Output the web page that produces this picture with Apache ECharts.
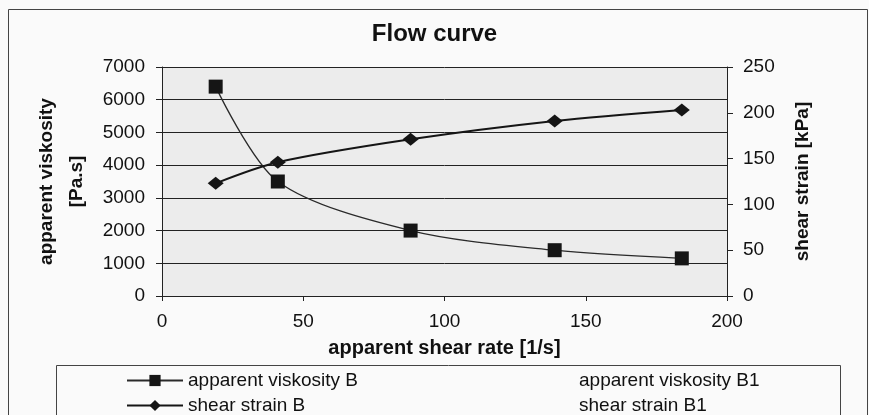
<!DOCTYPE html>
<html>
<head>
<meta charset="utf-8">
<script src="https://cdn.jsdelivr.net/npm/echarts@6/dist/echarts.min.js"></script>
<style>
  html, body { margin: 0; padding: 0; background: #fafafa; }
  #chart { width: 869px; height: 415px; }
</style>
</head>
<body>
<div id="chart"></div>
<script>
// values
const shearRate = [19, 41, 88, 139, 184];
const viskosityB = [6400, 3500, 2000, 1400, 1150];
const shearRateStrain = [19, 41, 88, 139, 184];
const shearStrainB = [123, 146, 171, 191, 203];
// B1 series appear only in the legend
const viskosityB1 = [];
const shearStrainB1 = [];

const font = 'Liberation Sans, Arial, sans-serif';

const pairs = (xs, ys) => ys.map((y, i) => [xs[i], y]);

const legendBase = {
    orient: 'horizontal',
    padding: 0,
    itemWidth: 56,
    itemHeight: 14,
    itemGap: 0,
    selectedMode: false,
    textStyle: { fontFamily: font, fontSize: 19, color: '#111' },
};

const option = {
    backgroundColor: '#fafafa',
    animation: false,
    title: {
        text: 'Flow curve',
        left: 'center',
        top: 17,
        textStyle: { fontFamily: font, fontSize: 24, fontWeight: 'bold', color: '#111' },
    },
    grid: { left: 162, right: 142, top: 67, bottom: 119, show: true, backgroundColor: '#ececec', borderWidth: 0 },
    xAxis: {
        type: 'value',
        min: 0,
        max: 200,
        interval: 50,
        name: 'apparent shear rate [1/s]',
        nameLocation: 'middle',
        nameGap: 42,
        nameTextStyle: { fontFamily: font, fontSize: 20, fontWeight: 'bold', color: '#111' },
        axisLine: { onZero: false, lineStyle: { color: '#222', width: 1 } },
        axisTick: { show: true, length: 5, lineStyle: { color: '#222' } },
        axisLabel: { margin: 16, fontFamily: font, fontSize: 19, color: '#111' },
        splitLine: { show: false },
    },
    yAxis: [
        {
            type: 'value',
            min: 0,
            max: 7000,
            interval: 1000,
            name: 'apparent viskosity\n[Pa.s]',
            nameLocation: 'middle',
            nameGap: 62,
            nameTextStyle: { fontFamily: font, fontSize: 19, fontWeight: 'bold', color: '#111', lineHeight: 30 },
            axisLine: { show: true, lineStyle: { color: '#222', width: 1 } },
            axisTick: { show: true, length: 6, lineStyle: { color: '#222' } },
            axisLabel: { margin: 17, fontFamily: font, fontSize: 19, color: '#111', formatter: (v) => String(v) },
            splitLine: { show: true, lineStyle: { color: '#222', width: 1 } },
        },
        {
            type: 'value',
            min: 0,
            max: 250,
            interval: 50,
            position: 'right',
            name: 'shear strain [kPa]',
            nameLocation: 'middle',
            nameGap: 66,
            nameTextStyle: { fontFamily: font, fontSize: 19, fontWeight: 'bold', color: '#111' },
            axisLine: { show: true, lineStyle: { color: '#222', width: 1 } },
            axisTick: { show: true, length: 6, inside: false, lineStyle: { color: '#222' } },
            axisLabel: { margin: 16, fontFamily: font, fontSize: 19, color: '#111' },
            splitLine: { show: false },
        },
    ],
    legend: [
        { ...legendBase, left: 126, top: 371, data: ['apparent viskosity B'] },
        { ...legendBase, left: 126, top: 396, data: ['shear strain B'] },
        { ...legendBase, left: 517, top: 371, data: ['apparent viskosity B1'] },
        { ...legendBase, left: 517, top: 396, data: ['shear strain B1'] },
    ],
    graphic: [
        { type: 'rect', left: 6, top: 7, shape: { width: 859, height: 420 }, style: { fill: 'none', stroke: '#444', lineWidth: 1 }, silent: true, z: -1 },
        { type: 'rect', left: 54, top: 363, shape: { width: 784, height: 80 }, style: { fill: 'none', stroke: '#444', lineWidth: 1 }, silent: true, z: -1 },
    ],
    series: [
        {
            name: 'apparent viskosity B',
            type: 'line',
            yAxisIndex: 0,
            data: pairs(shearRate, viskosityB),
            smooth: 0.3,
            symbol: 'rect',
            symbolSize: 14,
            itemStyle: { color: '#151515' },
            lineStyle: { color: '#2a2a2a', width: 1.3 },
        },
        {
            name: 'shear strain B',
            type: 'line',
            yAxisIndex: 1,
            data: pairs(shearRateStrain, shearStrainB),
            smooth: 0.3,
            symbol: 'diamond',
            symbolSize: [16, 13],
            itemStyle: { color: '#151515' },
            lineStyle: { color: '#151515', width: 2 },
        },
        {
            name: 'apparent viskosity B1',
            type: 'line',
            yAxisIndex: 0,
            data: viskosityB1,
            symbol: 'none',
            itemStyle: { color: 'transparent' },
            lineStyle: { color: 'transparent' },
        },
        {
            name: 'shear strain B1',
            type: 'line',
            yAxisIndex: 1,
            data: shearStrainB1,
            symbol: 'none',
            itemStyle: { color: 'transparent' },
            lineStyle: { color: 'transparent' },
        },
    ],
};

const myChart = echarts.init(document.getElementById('chart'));
myChart.setOption(option);
</script>
</body>
</html>
